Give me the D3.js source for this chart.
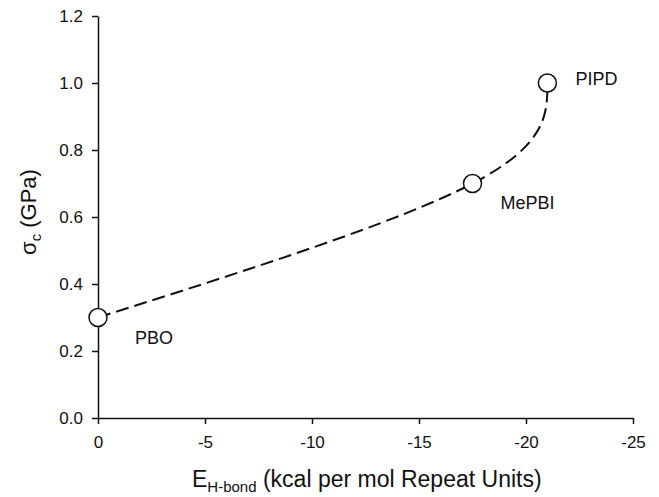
<!DOCTYPE html>
<html>
<head>
<meta charset="utf-8">
<script src="https://cdn.jsdelivr.net/npm/d3@7"></script>
<style>
  body { margin: 0; background: #fff; }
  svg text { font-family: Arial, "Liberation Sans", sans-serif; fill: #111; }
</style>
</head>
<body>
<script>
// chart data
const polymers = ['PBO', 'MePBI', 'PIPD'];
const hBondEnergy = [0, -17.5, -21];
const sigmaC = [0.3, 0.7, 1.0];
const xTicks = [0, -5, -10, -15, -20, -25];
const yTicks = [0.0, 0.2, 0.4, 0.6, 0.8, 1.0, 1.2];

// layout
const svgWidth = 659;
const svgHeight = 497;
const margin = {top: 16, right: 26, bottom: 79, left: 98};
const plotWidth = svgWidth - margin.left - margin.right;
const plotHeight = svgHeight - margin.top - margin.bottom;

// label offsets from each point (pixels)
const labelOffsets = [[37, 26], [28, 25], [28, 2]];

const points = polymers.map((name, i) => ({name: name, x: hBondEnergy[i], y: sigmaC[i]}));

const svg = d3.select('body')
              .append('svg')
              .attr('width', svgWidth)
              .attr('height', svgHeight);

const inner = svg.append('g')
                 .attr('transform', 'translate(' + margin.left + ',' + margin.top + ')');

const xScale = d3.scaleLinear().domain([0, -25]).range([0, plotWidth]);
const yScale = d3.scaleLinear().domain([0, 1.2]).range([plotHeight, 0]);

// axes
const xAxis = d3.axisBottom(xScale)
                .tickValues(xTicks)
                .tickFormat(d => String(d))
                .tickSize(6)
                .tickSizeOuter(0)
                .tickPadding(12);
const yAxis = d3.axisLeft(yScale)
                .tickValues(yTicks)
                .tickFormat(d3.format('.1f'))
                .tickSize(6)
                .tickSizeOuter(0)
                .tickPadding(9);

const gx = inner.append('g')
                .attr('transform', 'translate(0,' + plotHeight + ')')
                .call(xAxis);
const gy = inner.append('g').call(yAxis);

[gx, gy].forEach(g => {
  g.select('.domain').attr('stroke', '#111').attr('stroke-width', 1.5);
  g.selectAll('.tick line').attr('stroke', '#111').attr('stroke-width', 1.5);
  g.selectAll('.tick text')
   .attr('font-size', 17)
   .attr('font-family', 'Arial, "Liberation Sans", sans-serif')
   .attr('fill', '#111');
});

// dashed smooth curve through the points
const line = d3.line()
               .x(d => xScale(d.x))
               .y(d => yScale(d.y))
               .curve(d3.curveNatural);

inner.append('path')
     .datum(points)
     .attr('d', line)
     .attr('fill', 'none')
     .attr('stroke', '#111')
     .attr('stroke-width', 2)
     .attr('stroke-dasharray', '13,6');

// open circle markers
inner.selectAll('circle.marker')
     .data(points)
     .enter()
     .append('circle')
     .attr('class', 'marker')
     .attr('cx', d => xScale(d.x))
     .attr('cy', d => yScale(d.y))
     .attr('r', 9)
     .attr('fill', '#fff')
     .attr('stroke', '#111')
     .attr('stroke-width', 1.5);

// point labels
inner.selectAll('text.pointLabel')
     .data(points)
     .enter()
     .append('text')
     .attr('class', 'pointLabel')
     .attr('x', (d, i) => xScale(d.x) + labelOffsets[i][0])
     .attr('y', (d, i) => yScale(d.y) + labelOffsets[i][1])
     .attr('font-size', 18)
     .text(d => d.name);

// x axis title
const xTitle = svg.append('text')
                  .attr('x', 192)
                  .attr('y', 487)
                  .attr('font-size', 23);
xTitle.append('tspan').text('E');
xTitle.append('tspan').attr('dy', 5).attr('font-size', 15).text('H-bond');
xTitle.append('tspan').attr('dy', -5).text(' (kcal per mol Repeat Units)');

// y axis title
const yTitle = svg.append('text')
                  .attr('transform', 'translate(36,212) rotate(-90)')
                  .attr('text-anchor', 'middle')
                  .attr('font-size', 22);
yTitle.append('tspan').text('σ');
yTitle.append('tspan').attr('dy', 5).attr('font-size', 15).text('c');
yTitle.append('tspan').attr('dy', -5).text(' (GPa)');
</script>
</body>
</html>
